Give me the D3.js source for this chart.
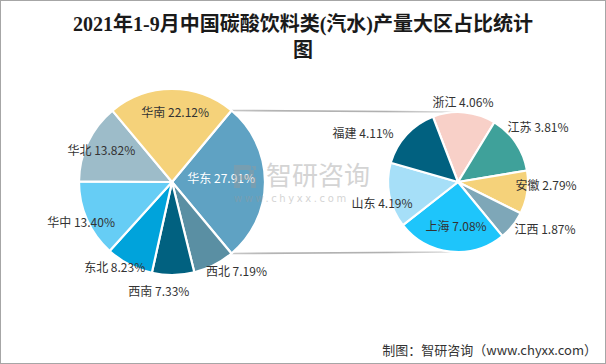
<!DOCTYPE html>
<html>
<head>
<meta charset="utf-8">
<script src="https://cdn.jsdelivr.net/npm/d3@7"></script>
<style>
  html, body { margin: 0; padding: 0; background: #fff; }
  svg { display: block; }
</style>
</head>
<body>
<svg id="chart" width="606" height="364"></svg>
<script>
// ---- data ----
const regions = ["华东", "西北", "西南", "东北", "华中", "华北", "华南"];
const regionValues = [27.91, 7.19, 7.33, 8.23, 13.40, 13.82, 22.12];
const provinces = ["浙江", "江苏", "安徽", "江西", "上海", "山东", "福建"];
const provinceValues = [4.06, 3.81, 2.79, 1.87, 7.08, 4.19, 4.11];
const titleLines = ["2021年1-9月中国碳酸饮料类(汽水)产量大区占比统计", "图"];
const sourceText = "制图：智研咨询（www.chyxx.com）";

// ---- styles / layout ----
const regionColors = ["#5FA2C3", "#5A8FA3", "#016180", "#00A3DB", "#66CDF5", "#9DBCC9", "#F5D27A"];
const provinceColors = ["#F8D0C8", "#3FA19A", "#F5D27A", "#7EA7B8", "#1EC5FB", "#A6DFF8", "#016180"];
// label placement: [radius factor, angle offset (deg)]
const regionLabelPlace = [[0.53, -3.3], [1.19, -8.8], [1.19, 7.5], [1.11, 6.4], [1.07, -0.3], [0.83, -1.5], [0.74, 2.7]];
const provinceLabelPlace = [[1.13, -1.6], [1.38, 0], [1.26, -5.9], [1.42, -9.7], [0.64, -3.8], [1.13, -5], [1.52, -15.6]];

const W = 606, H = 364;
const svg = d3.select("#chart");
const deg = Math.PI / 180;
const fontCJK = "'Microsoft YaHei','Noto Sans CJK SC','Noto Sans',sans-serif";

// border
svg.append("rect").attr("x", 0.5).attr("y", 0.5).attr("width", W - 1).attr("height", H - 1)
  .attr("fill", "#fff").attr("stroke", "#A6A6A6").attr("stroke-width", 1);

// title
const title = svg.append("text")
  .attr("text-anchor", "middle")
  .attr("font-family", "'Liberation Serif','Noto Sans CJK SC',serif")
  .attr("font-size", 20).attr("font-weight", "bold").attr("fill", "#1a1a1a");
titleLines.forEach((t, i) => {
  title.append("tspan").attr("x", W / 2).attr("y", 31 + i * 26).text(t);
});

// pies
const c1 = { x: 172, y: 182, r: 93 };
const c2 = { x: 458, y: 182, r: 70 };
const total1 = d3.sum(regionValues);
const share0 = regionValues[0] / total1 * 2 * Math.PI;
const start1 = Math.PI / 2 - share0 / 2;
const pie1 = d3.pie().sort(null).value(d => d).startAngle(start1).endAngle(start1 + 2 * Math.PI);
const arcs1 = pie1(regionValues);
const arc1 = d3.arc().innerRadius(0).outerRadius(c1.r);

const pie2 = d3.pie().sort(null).value(d => d).startAngle(-21 * deg).endAngle(-21 * deg + 2 * Math.PI);
const arcs2 = pie2(provinceValues);
const arc2 = d3.arc().innerRadius(0).outerRadius(c2.r);

// connector lines
const grad = svg.append("defs").append("linearGradient")
  .attr("id", "lg").attr("gradientUnits", "userSpaceOnUse")
  .attr("x1", c1.x).attr("x2", c2.x).attr("y1", 0).attr("y2", 0);
[["0%", "#e2e2e2"], ["35%", "#b4b4b4"], ["75%", "#b0b0b0"], ["100%", "#e8e8e8"]]
  .forEach(s => grad.append("stop").attr("offset", s[0]).attr("stop-color", s[1]));
const a0 = arcs1[0];
[[a0.startAngle, -1], [a0.endAngle, 1]].forEach(([ang, dir]) => {
  svg.append("line")
    .attr("x1", c1.x + c1.r * Math.sin(ang)).attr("y1", c1.y - c1.r * Math.cos(ang))
    .attr("x2", c2.x).attr("y2", c2.y + dir * c2.r)
    .attr("stroke", "url(#lg)").attr("stroke-width", 1.6);
});

const g1 = svg.append("g").attr("transform", `translate(${c1.x},${c1.y})`);
g1.selectAll("path").data(arcs1).join("path")
  .attr("d", arc1).attr("fill", (d, i) => regionColors[i])
  .attr("stroke", "#fff").attr("stroke-width", 2.2).attr("stroke-linejoin", "round");

const g2 = svg.append("g").attr("transform", `translate(${c2.x},${c2.y})`);
g2.selectAll("path").data(arcs2).join("path")
  .attr("d", arc2).attr("fill", (d, i) => provinceColors[i])
  .attr("stroke", "#fff").attr("stroke-width", 2.2).attr("stroke-linejoin", "round");

// watermark (logo drawn as shapes)
const wm = svg.append("g").attr("fill", "#9a9a9a").attr("opacity", 0.42);
wm.append("path")
  .attr("d", "M234,165 h14 a6,6 0 0 1 6,6 v3 a6,6 0 0 1 -6,6 h-8 v8 h-6 z M240,170 v5 h7 a2.5,2.5 0 0 0 0,-5 z M251,177 h5 v11 h-5 z M251,166 h5 v4 h-5 z")
  .attr("fill-rule", "evenodd");
wm.append("text").attr("x", 318).attr("y", 185).attr("text-anchor", "middle")
  .attr("font-family", fontCJK).attr("font-size", 26).text("智研咨询");
wm.append("text").attr("x", 234).attr("y", 202).attr("text-anchor", "start")
  .attr("font-family", "'DejaVu Sans',sans-serif").attr("font-size", 10).attr("letter-spacing", 2.6)
  .text("www.chyxx.com");

function placeLabel(g, arcs, names, values, place, r, whiteIdx) {
  g.selectAll("text.lbl").data(arcs).join("text").attr("class", "lbl")
    .attr("x", (d, i) => {
      const a = (d.startAngle + d.endAngle) / 2 + place[i][1] * deg;
      return Math.sin(a) * r * place[i][0];
    })
    .attr("y", (d, i) => {
      const a = (d.startAngle + d.endAngle) / 2 + place[i][1] * deg;
      return -Math.cos(a) * r * place[i][0];
    })
    .attr("dy", "0.35em")
    .attr("text-anchor", "middle")
    .attr("font-family", fontCJK).attr("font-size", 12)
    .attr("fill", (d, i) => i === whiteIdx ? "#ffffff" : "#333333")
    .text((d, i) => `${names[i]} ${values[i].toFixed(2)}%`);
}
placeLabel(g1, arcs1, regions, regionValues, regionLabelPlace, c1.r, 0);
placeLabel(g2, arcs2, provinces, provinceValues, provinceLabelPlace, c2.r, -1);

// source
svg.append("text").attr("x", 597).attr("y", 355).attr("text-anchor", "end")
  .attr("font-family", "'Noto Sans CJK SC',sans-serif").attr("font-size", 13).attr("fill", "#333")
  .text(sourceText);
</script>
</body>
</html>
